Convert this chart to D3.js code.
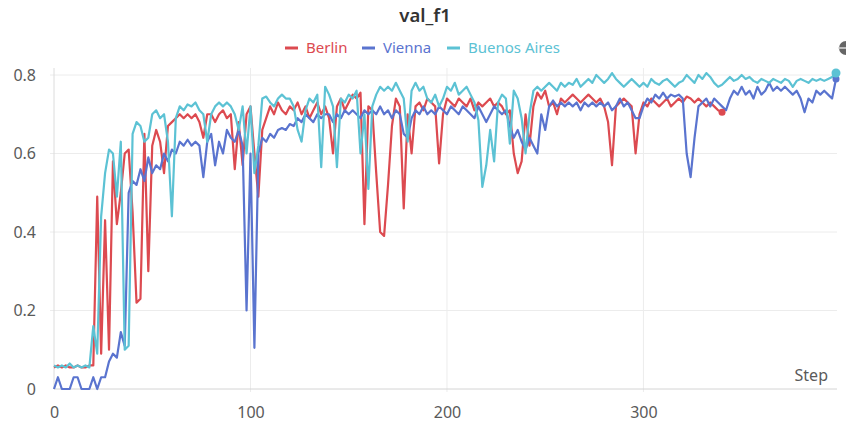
<!DOCTYPE html>
<html>
<head>
<meta charset="utf-8">
<script src="https://cdn.jsdelivr.net/npm/d3@7"></script>
<style>
  html, body { margin: 0; padding: 0; background: #fff; }
  svg { display: block; font-family: "Noto Sans", "Open Sans", sans-serif; }
</style>
</head>
<body>
<svg id="chart" width="846" height="425"></svg>
<script>
// val_f1 per training step (logged every 2 steps)
const stepSize = 2;
const seriesNames = ["Berlin", "Vienna", "Buenos Aires"];
const seriesColors = ["#dc4a50", "#5a74cf", "#5cc2d4"];
const xTicks = [0, 100, 200, 300];
const yTicks = [0, 0.2, 0.4, 0.6, 0.8];
const yTickLabels = ["0", "0.2", "0.4", "0.6", "0.8"];

const berlin = [
  0.055,0.06,0.055,0.06,0.055,0.055,0.06,0.055,0.055,0.06,
  0.06,0.49,0.09,0.43,0.1,0.58,0.42,0.5,0.6,0.61,
  0.45,0.22,0.23,0.65,0.3,0.62,0.66,0.63,0.55,0.67,
  0.68,0.69,0.7,0.69,0.7,0.69,0.7,0.68,0.64,0.7,
  0.7,0.68,0.7,0.71,0.69,0.7,0.56,0.68,0.57,0.7,
  0.72,0.6,0.49,0.66,0.69,0.72,0.7,0.73,0.71,0.7,
  0.72,0.71,0.73,0.7,0.72,0.69,0.71,0.73,0.7,0.72,
  0.69,0.6,0.72,0.74,0.71,0.73,0.75,0.74,0.755,0.42,
  0.72,0.71,0.55,0.4,0.39,0.52,0.67,0.74,0.72,0.46,
  0.7,0.6,0.72,0.73,0.71,0.74,0.73,0.72,0.575,0.7,
  0.74,0.73,0.72,0.74,0.73,0.72,0.74,0.71,0.73,0.72,
  0.73,0.74,0.72,0.73,0.72,0.7,0.71,0.6,0.55,0.58,
  0.7,0.62,0.72,0.755,0.74,0.76,0.72,0.73,0.7,0.74,
  0.73,0.74,0.75,0.74,0.73,0.74,0.75,0.74,0.73,0.74,
  0.72,0.68,0.57,0.72,0.73,0.74,0.73,0.72,0.6,0.7,
  0.73,0.72,0.74,0.73,0.72,0.73,0.74,0.72,0.73,0.74,
  0.73,0.745,0.74,0.73,0.74,0.73,0.72,0.73,0.72,0.71,
  0.705
];

const vienna = [
  0,0.03,0,0,0,0.03,0.03,0,0,0,
  0.03,0,0.03,0.03,0.07,0.09,0.08,0.145,0.11,0.5,
  0.53,0.52,0.56,0.53,0.59,0.55,0.57,0.56,0.6,0.58,
  0.61,0.6,0.63,0.62,0.635,0.62,0.63,0.62,0.54,0.63,
  0.65,0.57,0.63,0.6,0.66,0.64,0.63,0.66,0.62,0.2,
  0.6,0.105,0.6,0.64,0.63,0.65,0.64,0.66,0.665,0.66,
  0.675,0.67,0.69,0.68,0.7,0.69,0.68,0.7,0.69,0.7,
  0.7,0.68,0.7,0.69,0.71,0.7,0.71,0.7,0.69,0.71,
  0.7,0.71,0.7,0.72,0.7,0.71,0.69,0.71,0.7,0.65,
  0.64,0.69,0.71,0.7,0.72,0.7,0.71,0.7,0.72,0.71,
  0.7,0.72,0.71,0.7,0.72,0.71,0.7,0.69,0.72,0.7,
  0.68,0.7,0.72,0.71,0.7,0.71,0.67,0.64,0.66,0.63,
  0.61,0.64,0.62,0.6,0.7,0.66,0.72,0.735,0.72,0.73,
  0.72,0.73,0.72,0.73,0.71,0.73,0.72,0.73,0.72,0.73,
  0.72,0.73,0.71,0.72,0.74,0.72,0.73,0.71,0.69,0.69,
  0.72,0.74,0.73,0.75,0.74,0.755,0.74,0.75,0.745,0.75,
  0.74,0.6,0.54,0.64,0.72,0.73,0.74,0.72,0.74,0.73,
  0.72,0.71,0.74,0.76,0.75,0.77,0.75,0.76,0.74,0.77,
  0.75,0.76,0.78,0.76,0.77,0.76,0.77,0.76,0.75,0.76,
  0.74,0.705,0.74,0.73,0.76,0.75,0.76,0.75,0.74,0.79
];

const buenosAires = [
  0.06,0.055,0.06,0.055,0.065,0.055,0.06,0.055,0.06,0.055,
  0.16,0.09,0.44,0.55,0.61,0.6,0.49,0.63,0.1,0.11,
  0.65,0.68,0.67,0.63,0.64,0.7,0.71,0.69,0.7,0.63,
  0.44,0.69,0.72,0.71,0.725,0.72,0.73,0.71,0.7,0.63,
  0.7,0.72,0.73,0.72,0.73,0.72,0.7,0.66,0.72,0.6,
  0.72,0.55,0.62,0.74,0.745,0.73,0.72,0.74,0.75,0.74,
  0.74,0.72,0.66,0.63,0.71,0.74,0.73,0.75,0.565,0.77,
  0.75,0.72,0.565,0.74,0.73,0.75,0.74,0.76,0.6,0.7,
  0.51,0.72,0.75,0.77,0.76,0.77,0.76,0.78,0.76,0.74,
  0.63,0.76,0.78,0.76,0.77,0.74,0.73,0.75,0.72,0.74,
  0.77,0.76,0.78,0.75,0.76,0.77,0.75,0.73,0.685,0.515,
  0.57,0.66,0.58,0.73,0.75,0.74,0.625,0.76,0.74,0.69,
  0.6,0.7,0.76,0.77,0.76,0.77,0.78,0.77,0.76,0.78,
  0.77,0.78,0.775,0.79,0.77,0.78,0.79,0.78,0.8,0.79,
  0.78,0.79,0.805,0.79,0.78,0.77,0.78,0.79,0.78,0.77,
  0.78,0.77,0.79,0.78,0.775,0.785,0.79,0.78,0.77,0.78,
  0.785,0.8,0.79,0.78,0.8,0.79,0.805,0.795,0.78,0.77,
  0.775,0.785,0.795,0.785,0.79,0.8,0.79,0.795,0.785,0.78,
  0.79,0.785,0.78,0.79,0.785,0.78,0.79,0.785,0.77,0.785,
  0.79,0.785,0.78,0.79,0.785,0.79,0.785,0.79,0.795,0.805
];

const seriesValues = [berlin, vienna, buenosAires];

const svg = d3.select("#chart");
const x = d3.scaleLinear().domain([0, 398]).range([54, 836]);
const y = d3.scaleLinear().domain([0, 0.8]).range([389, 75]);

// Grid
const grid = svg.append("g");
grid.selectAll("line.h").data(yTicks.slice(1)).join("line")
  .attr("x1", 50).attr("x2", 837)
  .attr("y1", d => y(d)).attr("y2", d => y(d))
  .attr("stroke", "#ececec").attr("stroke-width", 1);
grid.selectAll("line.v").data(xTicks.slice(1)).join("line")
  .attr("x1", d => x(d)).attr("x2", d => x(d))
  .attr("y1", 68).attr("y2", 392)
  .attr("stroke", "#ececec").attr("stroke-width", 1);

// Axes
const yAxis = d3.axisLeft(y).tickValues(yTicks)
  .tickFormat((d, i) => yTickLabels[i]).tickSize(0).tickPadding(18);
const gy = svg.append("g").attr("transform", `translate(${x(0)},0)`).call(yAxis);
gy.select(".domain").attr("stroke", "#dcdcdc").attr("d", `M0,68V${y(0)}`);
gy.selectAll("text").attr("font-size", 16).attr("fill", "#5a5a5a")
  .attr("font-family", "Noto Sans, sans-serif");

const xAxis = d3.axisBottom(x).tickValues(xTicks).tickSize(0).tickPadding(18);
const gx = svg.append("g").attr("transform", `translate(0,${y(0)})`).call(xAxis);
gx.select(".domain").attr("stroke", "#d4d4d4").attr("d", `M${x(0)},0H837`);
gx.selectAll("text").attr("font-size", 16).attr("fill", "#5a5a5a")
  .attr("font-family", "Noto Sans, sans-serif");

svg.append("text").attr("x", 828).attr("y", 381)
  .attr("text-anchor", "end").attr("font-size", 16).attr("fill", "#5a5a5a")
  .text("Step");

// Lines
const line = d3.line()
  .x((d, i) => x(i * stepSize))
  .y(d => y(d));

const lines = svg.append("g");
seriesValues.forEach((vals, k) => {
  lines.append("path")
    .datum(vals)
    .attr("fill", "none")
    .attr("stroke", seriesColors[k])
    .attr("stroke-width", 2.2)
    .attr("stroke-linejoin", "round")
    .attr("d", line);
});

// Last-point markers
seriesValues.forEach((vals, k) => {
  const i = vals.length - 1;
  lines.append("circle")
    .attr("cx", x(i * stepSize)).attr("cy", y(vals[i]))
    .attr("r", k === 2 ? 4.5 : 3.5)
    .attr("fill", seriesColors[k]);
});

// Title
svg.append("text").attr("x", 425).attr("y", 22)
  .attr("text-anchor", "middle").attr("font-size", 18.5).attr("font-weight", 600)
  .attr("fill", "#333").text("val_f1");

// Legend
const legendX = [285, 362, 447];
const lg = svg.append("g");
seriesNames.forEach((name, k) => {
  lg.append("line")
    .attr("x1", legendX[k]).attr("x2", legendX[k] + 13)
    .attr("y1", 48).attr("y2", 48)
    .attr("stroke", seriesColors[k]).attr("stroke-width", 3);
  lg.append("text")
    .attr("x", legendX[k] + 21).attr("y", 53)
    .attr("font-size", 15).attr("fill", seriesColors[k])
    .text(name);
});

// Corner control
svg.append("circle").attr("cx", 846).attr("cy", 48).attr("r", 7)
  .attr("fill", "#666");
svg.append("line").attr("x1", 838).attr("x2", 846).attr("y1", 48).attr("y2", 48)
  .attr("stroke", "#ddd").attr("stroke-width", 1.5);
</script>
</body>
</html>
